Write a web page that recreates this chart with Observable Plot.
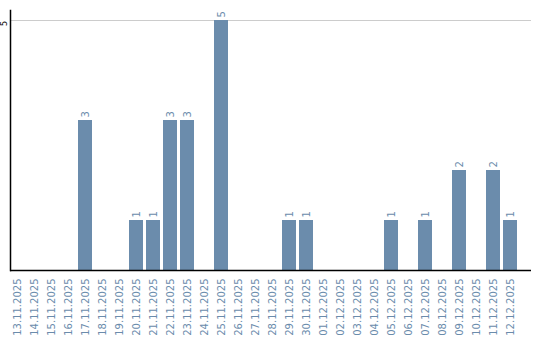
<!DOCTYPE html>
<html>
<head>
<meta charset="utf-8">
<script src="https://cdn.jsdelivr.net/npm/d3@7"></script>
<script src="https://cdn.jsdelivr.net/npm/@observablehq/plot@0.6"></script>
<style>
  html, body { margin: 0; padding: 0; background: #fff; }
  svg { display: block; }
</style>
</head>
<body>
<div id="chart"></div>
<script>
const dates = [
  "13.11.2025","14.11.2025","15.11.2025","16.11.2025","17.11.2025","18.11.2025",
  "19.11.2025","20.11.2025","21.11.2025","22.11.2025","23.11.2025","24.11.2025",
  "25.11.2025","26.11.2025","27.11.2025","28.11.2025","29.11.2025","30.11.2025",
  "01.12.2025","02.12.2025","03.12.2025","04.12.2025","05.12.2025","06.12.2025",
  "07.12.2025","08.12.2025","09.12.2025","10.12.2025","11.12.2025","12.12.2025"
];
const counts = [0,0,0,0,3,0,0,1,1,3,3,0,5,0,0,0,1,1,0,0,0,0,1,0,1,0,2,0,2,1];
const yTicks = [5];

const data = dates.map((d, i) => ({date: d, count: counts[i]}));
const nonzero = data.filter(d => d.count > 0);
const barColor = "#6b8cac";

const chart = Plot.plot({
  width: 540,
  height: 340,
  marginLeft: 10,
  marginRight: 9,
  marginTop: 10,
  marginBottom: 70,
  style: {fontFamily: "DejaVu Sans", fontSize: "10px", background: "#fff"},
  x: {domain: dates, range: [8.5, 518.5], paddingInner: 0.176, paddingOuter: 0.088},
  y: {domain: [0, 5.2]},
  marks: [
    Plot.ruleY(yTicks, {stroke: "#cccccc"}),
    Plot.barY(nonzero, {x: "date", y: "count", fill: barColor}),
    Plot.text(nonzero, {x: "date", y: "count", text: d => String(d.count), rotate: -90,
      textAnchor: "start", dy: -3, fill: barColor, fontSize: 10}),
    Plot.axisX({tickSize: 0, tickPadding: 8, tickRotate: -90, color: barColor, fontSize: 10, label: null}),
    Plot.axisY({ticks: yTicks, tickFormat: d3.format("d"), tickSize: 0, tickPadding: 4, tickRotate: -90,
      fontSize: 8, color: "#000", label: null, dy: 3}),
    Plot.ruleY([0], {stroke: "#000", strokeWidth: 1.5}),
    Plot.frame({anchor: "left", stroke: "#000", strokeWidth: 1.5})
  ]
});
document.getElementById("chart").appendChild(chart);
</script>
</body>
</html>
